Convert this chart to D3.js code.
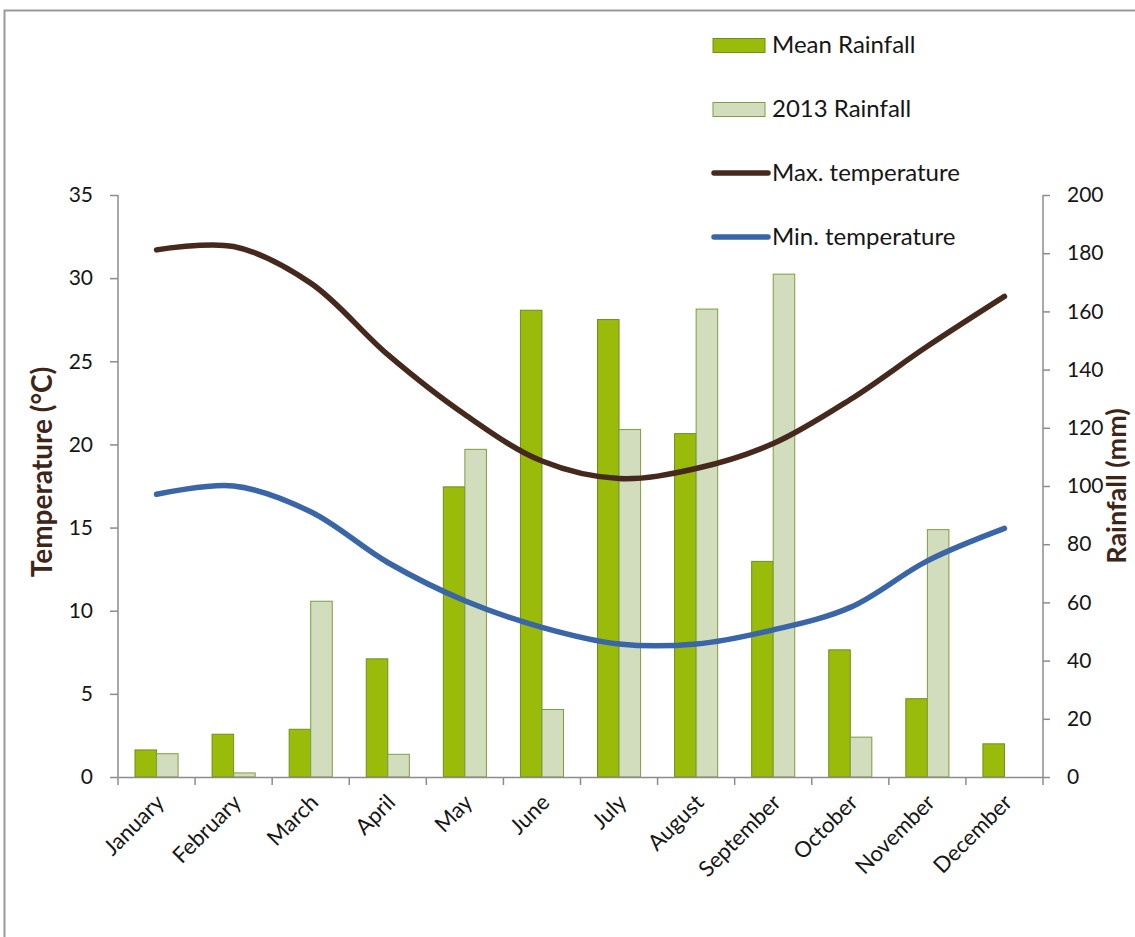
<!DOCTYPE html>
<html>
<head>
<meta charset="utf-8">
<script src="https://cdn.jsdelivr.net/npm/d3@7"></script>
<style>
  html, body { margin: 0; padding: 0; background: #fff; }
  svg { display: block; font-family: Lato, "Open Sans", sans-serif; }
</style>
</head>
<body>
<svg id="chart" width="1135" height="937"></svg>
<script>
// Monthly climate data
const months = ["January","February","March","April","May","June","July","August","September","October","November","December"];
const meanRainfall = [9.3, 14.7, 16.4, 40.6, 99.7, 160.4, 157.2, 118, 74.1, 43.7, 26.9, 11.4];
const rainfall2013 = [8.0, 1.4, 60.4, 7.8, 112.6, 23.2, 119.4, 160.8, 172.8, 13.7, 85.0, 0];
const maxTemp = [31.7, 31.9, 29.7, 25.4, 21.8, 19.0, 17.95, 18.55, 20.05, 22.7, 25.9, 28.9];
const minTemp = [17.0, 17.5, 15.95, 12.9, 10.6, 9.0, 8.0, 8.0, 8.85, 10.2, 13.0, 14.95];
const tempTicks = [0, 5, 10, 15, 20, 25, 30, 35];
const rainTicks = [0, 20, 40, 60, 80, 100, 120, 140, 160, 180, 200];

const svg = d3.select("#chart");
const L = 118, R = 1043, T = 195, B = 777;
const axisColor = "#8c8c8c";
const titleColor = "#3d2618";
const textColor = "#161616";

// Outer frame
svg.append("rect").attr("x", 4.5).attr("y", 10.5).attr("width", 1200).attr("height", 1000)
  .attr("fill", "none").attr("stroke", "#9a9a9a").attr("stroke-width", 2);

const x = d3.scaleBand().domain(months).range([L, R]).padding(0);
const sub = d3.scaleBand().domain(["mean", "y2013"]).range([17, x.bandwidth() - 17]).padding(0);
const yT = d3.scaleLinear().domain([0, 35]).range([B, T]);
const yR = d3.scaleLinear().domain([0, 200]).range([B, T]);

// Rainfall bars
const barData = months.map((m, i) => ({ m, mean: meanRainfall[i], y2013: rainfall2013[i] }));
const styles = {
  mean: { fill: "#9bbb0a", stroke: "#6f8f1c" },
  y2013: { fill: "#d2ddbd", stroke: "#7f9d3f" }
};
const g = svg.append("g");
["mean", "y2013"].forEach(k => {
  g.selectAll(".bar-" + k).data(barData.filter(d => d[k] > 0)).join("rect")
    .attr("x", d => x(d.m) + sub(k))
    .attr("y", d => yR(d[k]))
    .attr("width", sub.bandwidth())
    .attr("height", d => B - yR(d[k]))
    .attr("fill", styles[k].fill)
    .attr("stroke", styles[k].stroke)
    .attr("stroke-width", 1);
});

// Axes
const axL = svg.append("g").attr("transform", `translate(${L},0)`)
  .call(d3.axisLeft(yT).tickValues(tempTicks).tickSize(8).tickPadding(17));
const axR = svg.append("g").attr("transform", `translate(${R},0)`)
  .call(d3.axisRight(yR).tickValues(rainTicks).tickSize(7).tickPadding(17));
const axB = svg.append("g").attr("transform", `translate(0,${B})`)
  .call(d3.axisBottom(x).tickSize(0).tickFormat(""));
[axL, axR, axB].forEach(a => {
  a.select(".domain").attr("stroke", axisColor).attr("stroke-width", 1.5);
  a.selectAll(".tick line").attr("stroke", axisColor).attr("stroke-width", 1.5);
  a.selectAll(".tick text").attr("fill", textColor).attr("font-size", 21)
    .attr("font-family", "Lato, 'Open Sans', sans-serif");
});
axL.select(".domain").attr("d", `M0,${T}V${B}`);
axR.select(".domain").attr("d", `M0,${T}V${B}`);

// Category boundary ticks
const bounds = months.map(m => x(m)).concat([R]);
svg.append("g").selectAll("line").data(bounds).join("line")
  .attr("x1", d => d).attr("x2", d => d).attr("y1", B).attr("y2", B + 8)
  .attr("stroke", axisColor).attr("stroke-width", 1.5);

// Category labels
svg.append("g").selectAll("text").data(months).join("text")
  .attr("transform", d => `translate(${x(d) + x.bandwidth() / 2 - 2},${B + 16}) rotate(-45)`)
  .attr("text-anchor", "end")
  .attr("dy", "0.7em")
  .attr("font-size", 22)
  .attr("fill", textColor)
  .text(d => d);

// Temperature lines
const line = d3.line()
  .x((d, i) => x(months[i]) + x.bandwidth() / 2)
  .y(d => yT(d))
  .curve(d3.curveCatmullRom.alpha(0.5));
svg.append("path").datum(maxTemp).attr("d", line)
  .attr("fill", "none").attr("stroke", "#45291c").attr("stroke-width", 5.5)
  .attr("stroke-linecap", "round").attr("stroke-linejoin", "round");
svg.append("path").datum(minTemp).attr("d", line)
  .attr("fill", "none").attr("stroke", "#3a66a8").attr("stroke-width", 5.5)
  .attr("stroke-linecap", "round").attr("stroke-linejoin", "round");

// Axis titles
svg.append("text")
  .attr("transform", `translate(52,472) rotate(-90)`)
  .attr("text-anchor", "middle")
  .attr("font-size", 28).attr("font-weight", "bold").attr("fill", titleColor)
  .text("Temperature (°C)");
svg.append("text")
  .attr("transform", `translate(1126,486) rotate(-90)`)
  .attr("text-anchor", "middle")
  .attr("font-size", 27).attr("font-weight", "bold").attr("fill", titleColor)
  .text("Rainfall (mm)");

// Legend
const legend = [
  { label: "Mean Rainfall", type: "rect", fill: styles.mean.fill, stroke: styles.mean.stroke },
  { label: "2013 Rainfall", type: "rect", fill: styles.y2013.fill, stroke: styles.y2013.stroke },
  { label: "Max. temperature", type: "line", stroke: "#45291c" },
  { label: "Min. temperature", type: "line", stroke: "#3a66a8" }
];
const lg = svg.append("g").selectAll("g").data(legend).join("g")
  .attr("transform", (d, i) => `translate(712,${45 + i * 64})`);
lg.filter(d => d.type === "rect").append("rect")
  .attr("x", 1).attr("y", -6.5).attr("width", 52).attr("height", 14)
  .attr("fill", d => d.fill).attr("stroke", d => d.stroke);
lg.filter(d => d.type === "line").append("line")
  .attr("x1", 2).attr("x2", 56).attr("y1", 0).attr("y2", 0)
  .attr("stroke", d => d.stroke).attr("stroke-width", 5.5).attr("stroke-linecap", "round");
lg.append("text").attr("x", 60).attr("y", 0).attr("dy", "0.35em")
  .attr("font-size", 24).attr("fill", textColor)
  .text(d => d.label);
</script>
</body>
</html>
